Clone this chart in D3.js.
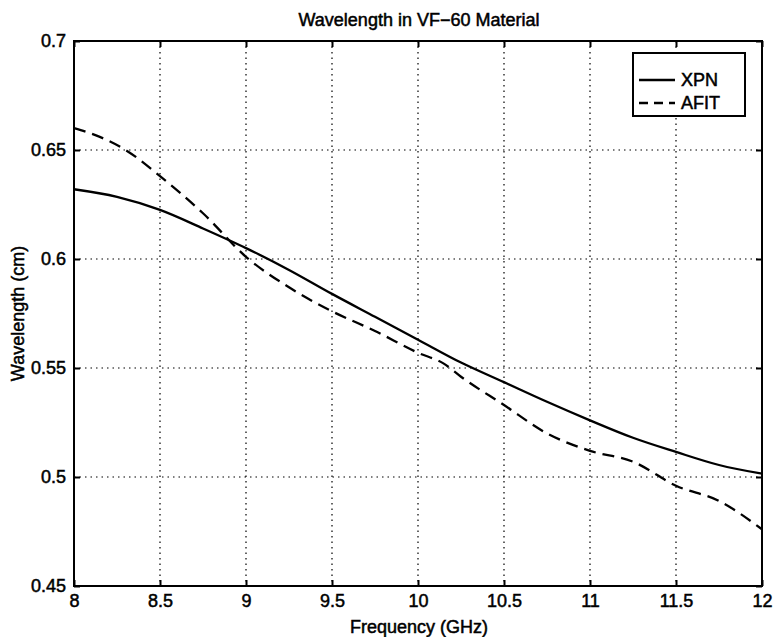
<!DOCTYPE html>
<html>
<head>
<meta charset="utf-8">
<script src="https://cdn.jsdelivr.net/npm/d3@7"></script>
<style>
  html, body { margin: 0; padding: 0; background: #fff; }
  svg text { font-family: "Liberation Sans", Arial, Helvetica, sans-serif; fill: #000; }
</style>
</head>
<body>
<svg id="chart" width="775" height="637"></svg>
<script>
// ---- data ----
const xpnFreq = [8.0, 8.25, 8.5, 8.75, 9.0, 9.25, 9.5, 9.75, 10.0, 10.25, 10.5, 10.75, 11.0, 11.25, 11.5, 11.75, 12.0];
const xpnWave = [0.632, 0.6285, 0.6225, 0.614, 0.605, 0.595, 0.584, 0.5735, 0.563, 0.5525, 0.5435, 0.5345, 0.526, 0.518, 0.5115, 0.5055, 0.5015];
const afitFreq = [8.0, 8.15, 8.3, 8.5, 8.75, 9.0, 9.25, 9.5, 9.75, 10.0, 10.15, 10.25, 10.5, 10.75, 11.0, 11.25, 11.5, 11.75, 12.0];
const afitWave = [0.660, 0.656, 0.650, 0.638, 0.621, 0.601, 0.587, 0.576, 0.567, 0.557, 0.552, 0.546, 0.533, 0.520, 0.512, 0.507, 0.496, 0.489, 0.476];
const xTicks = [8, 8.5, 9, 9.5, 10, 10.5, 11, 11.5, 12];
const yTicks = [0.45, 0.5, 0.55, 0.6, 0.65, 0.7];
const seriesNames = ["XPN", "AFIT"];
const titleText = "Wavelength in VF\u221260 Material";
const xLabelText = "Frequency (GHz)";
const yLabelText = "Wavelength (cm)";

// ---- layout ----
const L = 74, R = 762, T = 41, B = 586;
const svg = d3.select("#chart");
const x = d3.scaleLinear().domain([8, 12]).range([L, R]);
const y = d3.scaleLinear().domain([0.45, 0.7]).range([B, T]);
const FS = 18, SW = 0.5;

// grid
const grid = svg.append("g").attr("stroke", "#000").attr("stroke-width", 1.2).attr("stroke-dasharray", "1.5,4");
grid.selectAll(".gx").data(xTicks.filter(d => d > 8 && d < 12)).join("line")
  .attr("x1", d => x(d)).attr("x2", d => x(d)).attr("y1", T).attr("y2", B);
grid.selectAll(".gy").data(yTicks.filter(d => d > 0.45 && d < 0.7)).join("line")
  .attr("x1", L).attr("x2", R).attr("y1", d => y(d)).attr("y2", d => y(d));

// axes with inward ticks
const tl = 6;
const axB = svg.append("g").attr("transform", `translate(0,${B})`)
  .call(d3.axisBottom(x).tickValues(xTicks).tickSizeInner(-tl).tickSizeOuter(0).tickPadding(12).tickFormat(d3.format("")));
const axT = svg.append("g").attr("transform", `translate(0,${T})`)
  .call(d3.axisTop(x).tickValues(xTicks).tickSizeInner(-tl).tickSizeOuter(0).tickFormat(""));
const axL = svg.append("g").attr("transform", `translate(${L},0)`)
  .call(d3.axisLeft(y).tickValues(yTicks).tickSizeInner(-tl).tickSizeOuter(0).tickPadding(12).tickFormat(d3.format("")));
const axR = svg.append("g").attr("transform", `translate(${R},0)`)
  .call(d3.axisRight(y).tickValues(yTicks).tickSizeInner(-tl).tickSizeOuter(0).tickFormat(""));
[axB, axT, axL, axR].forEach(a => {
  a.select(".domain").remove();
  a.selectAll(".tick line").attr("stroke", "#000").attr("stroke-width", 2);
  a.selectAll("text").attr("font-size", FS).attr("font-family", "Liberation Sans, Arial, sans-serif")
    .attr("fill", "#000").attr("stroke", "#000").attr("stroke-width", SW);
});
axL.selectAll("text").attr("dx", "4");
axB.selectAll("text").attr("dy", "0.5em");

// frame
svg.append("rect").attr("x", L).attr("y", T).attr("width", R - L).attr("height", B - T)
  .attr("fill", "none").attr("stroke", "#000").attr("stroke-width", 2);

// lines
const line = d3.line().x(d => x(d[0])).y(d => y(d[1])).curve(d3.curveMonotoneX);
const xpnData = xpnFreq.map((f, i) => [f, xpnWave[i]]);
const afitData = afitFreq.map((f, i) => [f, afitWave[i]]);
svg.append("path").datum(xpnData).attr("d", line)
  .attr("fill", "none").attr("stroke", "#000").attr("stroke-width", 2.3);
svg.append("path").datum(afitData).attr("d", line)
  .attr("fill", "none").attr("stroke", "#000").attr("stroke-width", 2.3).attr("stroke-dasharray", "12,7");

// legend
const lg = svg.append("g");
lg.append("rect").attr("x", 633).attr("y", 53).attr("width", 112).attr("height", 63)
  .attr("fill", "#fff").attr("stroke", "#000").attr("stroke-width", 2);
const dashes = [null, "9,6"];
seriesNames.forEach((n, i) => {
  const yy = 80 + i * 23;
  lg.append("line").attr("x1", 639).attr("x2", 675).attr("y1", yy).attr("y2", yy)
    .attr("stroke", "#000").attr("stroke-width", 2.3).attr("stroke-dasharray", dashes[i]);
  lg.append("text").attr("x", 681).attr("y", yy).attr("dy", "0.36em").attr("font-size", FS)
    .attr("stroke", "#000").attr("stroke-width", SW).text(n);
});

// title and labels
svg.append("text").attr("x", 419).attr("y", 26).attr("text-anchor", "middle").attr("font-size", FS)
  .attr("stroke", "#000").attr("stroke-width", SW).text(titleText);
svg.append("text").attr("x", 419).attr("y", 633).attr("text-anchor", "middle").attr("font-size", FS)
  .attr("stroke", "#000").attr("stroke-width", SW).text(xLabelText);
svg.append("text").attr("transform", `translate(24,${(T + B) / 2}) rotate(-90)`).attr("text-anchor", "middle")
  .attr("font-size", FS).attr("stroke", "#000").attr("stroke-width", SW).text(yLabelText);
</script>
</body>
</html>
